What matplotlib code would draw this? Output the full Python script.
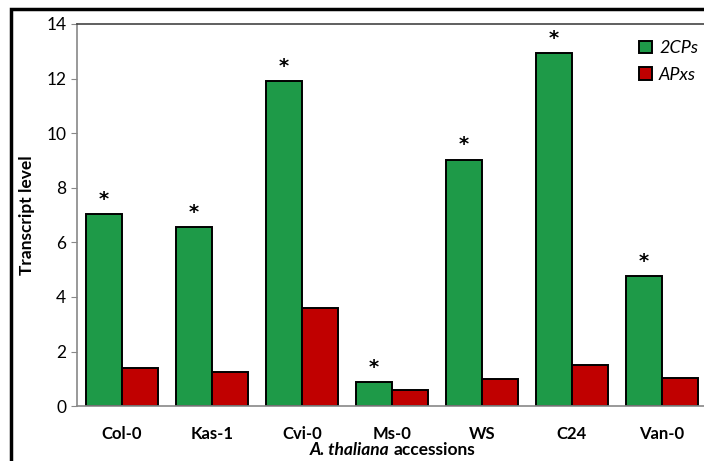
import numpy as np
import matplotlib.pyplot as plt
from matplotlib.patches import Rectangle

accessions = ['Col-0', 'Kas-1', 'Cvi-0', 'Ms-0', 'WS', 'C24', 'Van-0']
cps = [7.03, 6.55, 11.9, 0.87, 9.02, 12.92, 4.75]
apxs = [1.38, 1.25, 3.6, 0.58, 1.0, 1.5, 1.02]
yticks = [0, 2, 4, 6, 8, 10, 12, 14]

plt.rcParams['font.family'] = ['Lato', 'DejaVu Sans']

fig = plt.figure(figsize=(7.04, 4.61), dpi=100)
ax = fig.add_axes([0.109, 0.119, 0.895, 0.829])

x = np.arange(len(accessions))
w = 0.4
ax.bar(x - w / 2, cps, w, color='#1e9a48', edgecolor='black', linewidth=1.4, label='2CPs')
ax.bar(x + w / 2, apxs, w, color='#c00000', edgecolor='black', linewidth=1.4, label='APxs')

# significance marks over the 2CPs bars
for i, v in enumerate(cps):
    ax.annotate('*', (x[i] - w / 2, v), xytext=(0, 4), textcoords='offset points',
                ha='center', va='bottom', fontsize=14, fontweight='bold',
                family='DejaVu Sans')

ax.set_xlim(-0.5, len(accessions) - 0.5)
ax.set_ylim(0, 14)
ax.set_yticks(yticks)
ax.set_xticks(x)
ax.set_xticklabels(accessions, fontsize=12, fontweight='bold')
ax.tick_params(axis='x', length=0, pad=14)
ax.tick_params(axis='y', labelsize=12.5, length=4, color='#888888', direction='out')
for s in ['left', 'bottom', 'top', 'right']:
    ax.spines[s].set_color('#888888')
    ax.spines[s].set_linewidth(1.2)
ax.spines['top'].set_color('#444444')

ax.set_ylabel('Transcript level', fontsize=12.5, fontweight='bold', labelpad=8)

fig.text(0.553, 0.024, 'A. thaliana', ha='right', va='center', fontsize=12.5,
         fontweight='bold', style='italic')
fig.text(0.559, 0.024, 'accessions', ha='left', va='center', fontsize=12.5,
         fontweight='bold')

leg = ax.legend(loc='upper right', frameon=False, prop={'size': 13, 'style': 'italic'},
                handlelength=0.7, handleheight=0.7, handletextpad=0.4,
                bbox_to_anchor=(1.012, 1.0), labelspacing=0.6)

# outer frame of the figure
fig.patches.append(Rectangle((0.016, -0.1), 1.2, 1.08, transform=fig.transFigure,
                             fill=False, edgecolor='black', linewidth=2.5, clip_on=False))

fig.savefig('out.png', dpi=100)
